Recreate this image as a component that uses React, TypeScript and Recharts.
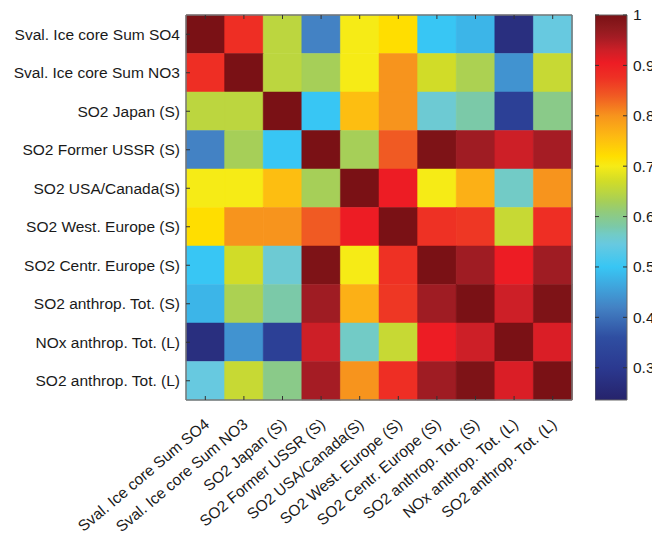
import { BarChart, Bar, XAxis, YAxis, Cell } from 'recharts';

const labels = [
  'Sval. Ice core Sum SO4',
  'Sval. Ice core Sum NO3',
  'SO2 Japan (S)',
  'SO2 Former USSR (S)',
  'SO2 USA/Canada(S)',
  'SO2 West. Europe (S)',
  'SO2 Centr. Europe (S)',
  'SO2 anthrop. Tot. (S)',
  'NOx anthrop. Tot. (L)',
  'SO2 anthrop. Tot. (L)',
];

// correlation matrix, row = y label (top to bottom), col = x label
const corr = [
  [1, 0.88, 0.65, 0.42, 0.7, 0.72, 0.5, 0.48, 0.27, 0.545],
  [0.88, 1, 0.65, 0.63, 0.7, 0.8, 0.67, 0.635, 0.44, 0.66],
  [0.65, 0.65, 1, 0.5, 0.755, 0.8, 0.555, 0.58, 0.32, 0.6],
  [0.42, 0.63, 0.5, 1, 0.63, 0.84, 0.995, 0.96, 0.93, 0.955],
  [0.7, 0.7, 0.755, 0.63, 1, 0.905, 0.7, 0.77, 0.565, 0.8],
  [0.72, 0.8, 0.8, 0.84, 0.905, 1, 0.875, 0.87, 0.66, 0.88],
  [0.5, 0.67, 0.555, 0.995, 0.7, 0.875, 1, 0.96, 0.905, 0.96],
  [0.48, 0.635, 0.58, 0.96, 0.77, 0.87, 0.96, 1, 0.93, 0.995],
  [0.27, 0.44, 0.32, 0.93, 0.565, 0.66, 0.905, 0.93, 1, 0.92],
  [0.545, 0.66, 0.6, 0.955, 0.8, 0.88, 0.96, 0.995, 0.92, 1],
];

const cMin = 0.236;
const cMax = 1;
const cbTicks = [0.3, 0.4, 0.5, 0.6, 0.7, 0.8, 0.9, 1];

const stopValues = [0.236, 0.3, 0.36, 0.42, 0.46, 0.5, 0.545, 0.565, 0.58, 0.61, 0.63, 0.65, 0.67, 0.7, 0.72, 0.76, 0.8, 0.84, 0.875, 0.905, 0.93, 0.955, 0.975, 1];
const stopColors = ['#26236b', '#2b3990', '#2f4ea1', '#4382c4', '#3fa4dc', '#38c6f4', '#67c9e0', '#72cbc6', '#7bc9a8', '#92cb7a', '#a6cf58', '#bcd63f', '#d1dc28', '#f6eb16', '#ffde00', '#fdb913', '#f7941d', '#f05a23', '#ee3124', '#ed1c24', '#cd1f27', '#a51c24', '#8e1a1e', '#7a1115'];

const hexToRgb = (h: string) => [1, 3, 5].map((i) => parseInt(h.slice(i, i + 2), 16));

function colorOf(v: number) {
  if (v <= stopValues[0]) return stopColors[0];
  for (let i = 1; i < stopValues.length; i++) {
    if (v <= stopValues[i]) {
      const t = (v - stopValues[i - 1]) / (stopValues[i] - stopValues[i - 1]);
      const a = hexToRgb(stopColors[i - 1]);
      const b = hexToRgb(stopColors[i]);
      const c = a.map((x, k) => Math.round(x + (b[k] - x) * t));
      return `rgb(${c[0]},${c[1]},${c[2]})`;
    }
  }
  return stopColors[stopColors.length - 1];
}

const chartData = labels.map((name) => {
  const row: any = { name };
  labels.forEach((_, r) => { row['r' + r] = 1; });
  return row;
});

const rowTicks = labels.map((_, i) => i + 0.5);
const FONT = 15.5;
const TXT = '#1a1a1a';
const TICK = '#333';

const LeftTick = ({ x, y, payload }: any) => (
  <g>
    <line x1={x} x2={x + 4} y1={y} y2={y} stroke={TICK} />
    <text x={x - 6} y={y} dy="0.35em" textAnchor="end" fontSize={FONT} fill={TXT}>
      {labels[Math.floor(payload.value)]}
    </text>
  </g>
);

const RightTick = ({ x, y }: any) => <line x1={x} x2={x - 4} y1={y} y2={y} stroke={TICK} />;
const TopTick = ({ x, y }: any) => <line x1={x} x2={x} y1={y} y2={y + 4} stroke={TICK} />;

const BottomTick = ({ x, y, payload }: any) => (
  <g>
    <line x1={x} x2={x} y1={y} y2={y - 4} stroke={TICK} />
    <text transform={`translate(${x + 5},${y + 26}) rotate(-40)`} textAnchor="end" fontSize={FONT} fill={TXT}>
      {payload.value}
    </text>
  </g>
);

const CbTick = ({ x, y, payload }: any) => (
  <g>
    <line x1={x} x2={x - 4} y1={y} y2={y} stroke={TICK} />
    <line x1={x - 32} x2={x - 28} y1={y} y2={y} stroke={TICK} />
    <text x={x + 6} y={y} dy="0.35em" textAnchor="start" fontSize={FONT} fill={TXT}>
      {String(payload.value)}
    </text>
  </g>
);

const cbData = [{ name: 'cb', range: [cMin, cMax] }];

export default function App() {
  return (
    <div style={{ position: 'absolute', left: 0, top: 0, width: 652, height: 535, overflow: 'hidden', background: '#fff', fontFamily: '"Liberation Sans", Arial, sans-serif' }}>
      <div style={{ position: 'absolute', left: 0, top: 0 }}>
        <BarChart width={580} height={535} data={chartData} barCategoryGap={0} barGap={0}
          margin={{ top: 14, right: 7, bottom: 0, left: 0 }}>
          <XAxis dataKey="name" type="category" height={135} interval={0} tickSize={0} tickMargin={0}
            tickLine={false} axisLine={{ stroke: '#777', strokeWidth: 1.5 }} tick={<BottomTick />} />
          <XAxis xAxisId="top" dataKey="name" orientation="top" height={1} interval={0} tickSize={0} tickMargin={0}
            tickLine={false} axisLine={{ stroke: '#777', strokeWidth: 1.5 }} tick={<TopTick />} />
          <YAxis type="number" domain={[0, 10]} reversed ticks={rowTicks} interval={0} width={186} tickSize={0} tickMargin={0}
            tickLine={false} axisLine={{ stroke: '#777', strokeWidth: 1.5 }} tick={<LeftTick />} />
          <YAxis yAxisId="right" orientation="right" type="number" domain={[0, 10]} reversed ticks={rowTicks} interval={0} width={1}
            tickSize={0} tickMargin={0} tickLine={false} axisLine={{ stroke: '#777', strokeWidth: 1.5 }} tick={<RightTick />} />
          {labels.map((_, r) => (
            <Bar key={r} dataKey={'r' + r} stackId="m" isAnimationActive={false}>
              {labels.map((__, c) => (
                <Cell key={c} fill={colorOf(corr[r][c])} stroke={colorOf(corr[r][c])} strokeWidth={0.5} />
              ))}
            </Bar>
          ))}
        </BarChart>
      </div>
      <div style={{ position: 'absolute', left: 595, top: 0 }}>
        <BarChart width={57} height={535} data={cbData} barCategoryGap={0}
          margin={{ top: 15, right: 0, bottom: 135, left: 0 }}>
          <defs>
            <linearGradient id="cbGrad" x1="0" y1="0" x2="0" y2="1">
              {stopValues.map((v, i) => ({ v, col: stopColors[i] })).reverse().map((s, i) => (
                <stop key={i} offset={`${((cMax - s.v) / (cMax - cMin)) * 100}%`} stopColor={s.col} />
              ))}
            </linearGradient>
          </defs>
          <XAxis dataKey="name" hide />
          <YAxis orientation="right" type="number" domain={[cMin, cMax]} ticks={cbTicks} interval={0} width={25}
            tickSize={0} tickMargin={0} tickLine={false} axisLine={false} tick={<CbTick />} />
          <Bar dataKey="range" fill="url(#cbGrad)" stroke="#666" strokeWidth={1} isAnimationActive={false} />
        </BarChart>
      </div>
    </div>
  );
}
